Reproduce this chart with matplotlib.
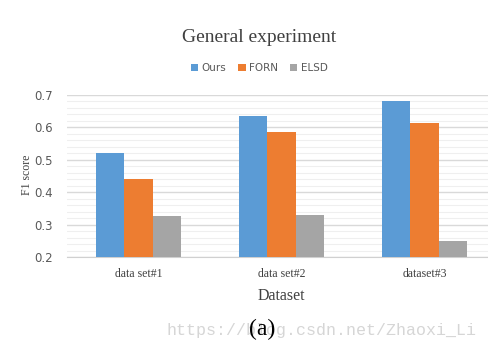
import numpy as np
import matplotlib.pyplot as plt

datasets = ['data set#1', 'data set#2', 'dataset#3']
ours = [0.52, 0.636, 0.683]
forn = [0.44, 0.587, 0.613]
elsd = [0.326, 0.33, 0.249]
series_names = ['Ours', 'FORN', 'ELSD']
colors = ['#5b9bd5', '#ed7d31', '#a5a5a5']

fig = plt.figure(figsize=(4.88, 3.51), dpi=100)
ax = fig.add_axes([67 / 488, 94 / 351, 429 / 488, 162 / 351])

x = np.arange(len(datasets))
w = 0.2
for i, (vals, name, c) in enumerate(zip([ours, forn, elsd], series_names, colors)):
    ax.bar(x + (i - 1) * w, vals, width=w, color=c, label=name, zorder=3)

ax.set_xlim(-0.5, 2.5)
ax.set_ylim(0.2, 0.7)
ax.set_yticks(np.arange(0.2, 0.71, 0.1))
ax.set_yticks(np.arange(0.2, 0.7, 0.02), minor=True)
ax.set_yticklabels(['%.1f' % v for v in np.arange(0.2, 0.71, 0.1)])
ax.grid(axis='y', which='major', color='#d9d9d9', lw=1.0, zorder=0)
ax.grid(axis='y', which='minor', color='#efefef', lw=0.8, zorder=0)
for s in ['top', 'right', 'left']:
    ax.spines[s].set_visible(False)
ax.spines['bottom'].set_color('#d0d0d0')
ax.tick_params(axis='both', which='both', length=0)
ax.tick_params(axis='y', labelsize=8.5, labelcolor='#595959', pad=10)
ax.set_xticks(x)
ax.set_xticklabels(datasets, family='Liberation Serif', fontsize=8.5, color='#404040')
ax.tick_params(axis='x', pad=8)

ax.set_xlabel('Dataset', family='Liberation Serif', fontsize=11.5, color='#404040', labelpad=6)
fig.text(27 / 488, 1 - 175 / 351, 'F1 score', family='Liberation Serif', fontsize=8.5,
         color='#404040', rotation=90, ha='center', va='center')

fig.text(259 / 488, 1 - 37 / 351, 'General experiment', family='Liberation Serif',
         fontsize=14, color='#404040', ha='center', va='center')
fig.legend(loc='center', bbox_to_anchor=(259 / 488, 1 - 68 / 351), ncol=3, frameon=False,
           fontsize=7.5, handlelength=0.7, handleheight=0.7, handletextpad=0.3,
           columnspacing=1.2, labelcolor='#595959')

fig.text(321 / 488, 1 - 331 / 351, 'https://blog.csdn.net/Zhaoxi_Li', family='Liberation Mono',
         fontsize=12, color='#d6d6d6', ha='center', va='center')
fig.text(262 / 488, 1 - 329 / 351, '(a)', family='Liberation Serif', fontsize=17,
         color='black', ha='center', va='center')

fig.savefig('out.png', dpi=100)
